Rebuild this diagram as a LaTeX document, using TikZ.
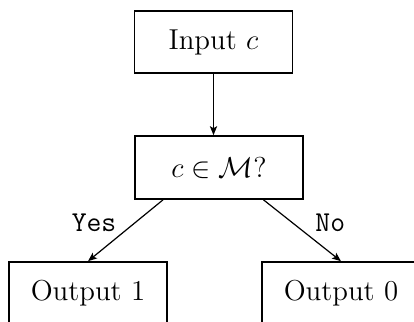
\documentclass[tikz,border=0pt]{standalone}
\usetikzlibrary{arrows.meta}
\usetikzlibrary{positioning}

\begin{document}
\begin{tikzpicture}[x=0.5pt,y=-0.5pt,>={Stealth[length=4.5pt,width=3.6pt,inset=1pt]},font=\Large,
    box/.style={draw,thick,minimum width=79pt,minimum height=31pt,inner sep=0pt},
    link/.style={->,semithick}]
    \useasboundingbox (0,0) rectangle (414,322);

    \node[box] (input) at (213.5,42) {Input $c$};
    \node[box,minimum width=84pt,minimum height=31.5pt] (test) at (219,167.5) {$c\in\mathcal{M}$?};
    \node[box] (one) at (88,293) {Output 1};
    \node[box] (zero) at (341,293) {Output 0};

    \draw[link] (input.south) -- (input.south |- test.north);
    \draw[link] (test.210) -- node[above left,xshift=-1pt,yshift=-4pt] {\texttt{Yes}} (one.north);
    \draw[link] (test.-36) -- node[above right,xshift=3pt,yshift=-4pt] {\texttt{No}} (zero.north);
\end{tikzpicture}
\end{document}
